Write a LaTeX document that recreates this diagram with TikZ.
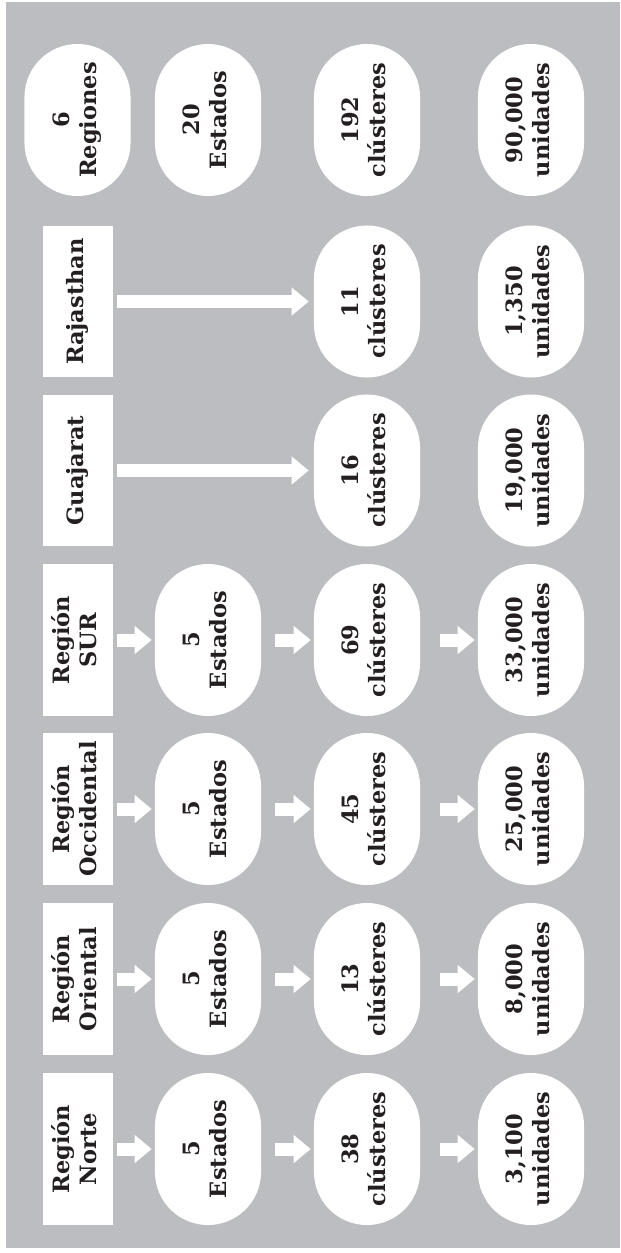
\documentclass[tikz,border=0pt]{standalone}
\usepackage{fontspec}
\setmainfont{DejaVu Serif}
\usepackage{graphicx}
\usetikzlibrary{arrows.meta}
\definecolor{grisFondo}{RGB}{188,189,192}
\definecolor{tinta}{RGB}{35,31,32}
\newcommand{\giro}[1]{\rotatebox{90}{\begin{tabular}{@{}c@{}}#1\end{tabular}}}

\begin{document}
\begin{tikzpicture}[x=0.025cm,y=-0.025cm,
  font=\fontsize{16}{19}\selectfont\bfseries, text=tinta,
  caja/.style={fill=white,inner sep=0pt,minimum width=1.725cm,minimum height=3.775cm},
  ovalo/.style={fill=white,inner sep=0pt,minimum width=2.65cm,minimum height=3.8cm,
                rounded corners=1.325cm},
  flecha/.style={white,line width=0.325cm,
                 -{Triangle[length=0.425cm,width=0.675cm]},shorten >=0.075cm}]
  \useasboundingbox (0,0) rectangle (620,1253);
  \fill[grisFondo] (6,2) rectangle (620,1248);

  % Totales
  \node[ovalo] (tReg) at (77.5,120) {\giro{6\\Regiones}};
  \node[ovalo] (tEst) at (208,120) {\giro{20\\Estados}};
  \node[ovalo] (tClu) at (367,120) {\giro{192\\clústeres}};
  \node[ovalo] (tUni) at (531,120) {\giro{90{,}000\\unidades}};

  % Estados sin region
  \node[caja] (raj) at (78,301.5) {\giro{Rajasthan}};
  \node[ovalo] (raj-c) at (367,301.5) {\giro{11\\clústeres}};
  \node[ovalo] (raj-u) at (531,301.5) {\giro{1{,}350\\unidades}};
  \draw[flecha,shorten <=0.1cm,shorten >=0.125cm] (raj) -- (raj-c);

  \node[caja] (guj) at (78,470.5) {\giro{Guajarat}};
  \node[ovalo] (guj-c) at (367,470.5) {\giro{16\\clústeres}};
  \node[ovalo] (guj-u) at (531,470.5) {\giro{19{,}000\\unidades}};
  \draw[flecha,shorten <=0.1cm,shorten >=0.125cm] (guj) -- (guj-c);

  % Regiones
  \foreach \n/\y/\reg/\e/\c/\u in {sur/640/Región\\SUR/5/69/33{,}000,
                                   occ/809/Región\\Occidental/5/45/25{,}000,
                                   ori/979/Región\\Oriental/5/13/8{,}000,
                                   nor/1149/Región\\Norte/5/38/3{,}100} {
    \node[caja] (\n) at (78,\y) {\giro{\reg}};
    \node[ovalo] (\n-e) at (208,\y) {\giro{\e\\Estados}};
    \node[ovalo] (\n-c) at (367,\y) {\giro{\c\\clústeres}};
    \node[ovalo] (\n-u) at (531,\y) {\giro{\u\\unidades}};
    \draw[flecha,shorten <=0.1cm] (\n) -- (\n-e);
    \draw[flecha,shorten <=0.35cm] (\n-e) -- (\n-c);
    \draw[flecha,shorten <=0.5cm] (\n-c) -- (\n-u);
  }
\end{tikzpicture}
\end{document}
